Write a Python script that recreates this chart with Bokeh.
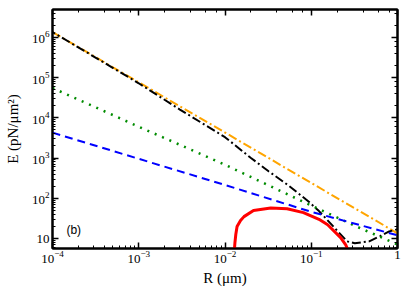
from bokeh.plotting import figure
from bokeh.models import LogAxis, LogTickFormatter, Label, Range1d
from bokeh.embed import file_html
from bokeh.resources import INLINE

# ---- data ----
orange_x = [1e-4, 1e-3, 1e-2, 1e-1, 1.0]
orange_y = [1.35e6, 7.6e4, 4.3e3, 240, 13.5]

black_x = [1e-4, 1e-3, 3e-3, 1e-2, 2e-2, 3.2e-2, 5.5e-2, 9.3e-2, 0.123, 0.18,
           0.26, 0.32, 0.47, 0.63, 0.8, 1.0]
black_y = [1.35e6, 7.2e4, 1.6e4, 3.3e3, 1.0e3, 470, 205, 83, 48, 20,
           8.5, 7.6, 8.5, 11.5, 15, 17]

green_x = [1e-4, 1e-3, 1e-2, 1e-1, 0.316, 1.0]
green_y = [5.5e4, 6.0e3, 680, 66, 21, 7.1]

blue_x = [1e-4, 1e-3, 1e-2, 1e-1, 1.0]
blue_y = [4270, 955, 214, 46, 12]

red_x = [0.01274, 0.01303, 0.01334, 0.0138, 0.01514, 0.0166, 0.0214, 0.0339,
         0.0525, 0.0813, 0.123, 0.155, 0.219, 0.251, 0.279]
red_y = [4.0, 7.8, 12.6, 20, 28, 35, 50, 57, 55, 44, 30, 22, 10.5, 7.0, 4.0]

x_lo, x_hi = 1e-4, 1.0
y_lo, y_hi = 5.65, 4.9e6

SERIF = "Liberation Serif"

p = figure(width=415, height=288, x_axis_type="log", y_axis_type="log",
           x_range=Range1d(x_lo, x_hi), y_range=Range1d(y_lo, y_hi),
           output_backend="svg", toolbar_location=None,
           min_border_left=52, min_border_right=18, min_border_top=9,
           min_border_bottom=39)
p.grid.visible = False
p.outline_line_color = "black"
p.outline_line_width = 2
p.background_fill_color = "white"
p.border_fill_color = "white"


def style(ax, labels=True):
    ax.major_tick_in = 6
    ax.major_tick_out = 0
    ax.minor_tick_in = 3
    ax.minor_tick_out = 0
    ax.axis_line_width = 2
    ax.axis_line_color = "black"
    ax.major_tick_line_width = 1.5
    ax.minor_tick_line_width = 1
    ax.major_tick_line_color = "black"
    ax.minor_tick_line_color = "black"
    if labels:
        ax.major_label_text_font = SERIF
        ax.major_label_text_font_size = "13px"
        ax.major_label_text_color = "black"
        ax.major_label_standoff = 3
        ax.axis_label_text_font = SERIF
        ax.axis_label_text_font_size = "15px"
        ax.axis_label_text_font_style = "normal"
        ax.axis_label_text_color = "black"
    else:
        ax.major_label_text_font_size = "1px"
        ax.major_label_text_alpha = 0
        ax.major_label_standoff = 0


xa = p.xaxis[0]
ya = p.yaxis[0]
style(xa)
style(ya)
xa.axis_label = "R (μm)"
xa.major_label_standoff = 2
xa.axis_label_standoff = 4
ya.axis_label = "E (pN/μm²)"
ya.axis_label_standoff = 8
xa.formatter = LogTickFormatter()
xa.major_label_overrides = {1: "1"}
ya.formatter = LogTickFormatter()
ya.major_label_overrides = {10: "10"}

top = LogAxis()
right = LogAxis()
style(top, labels=False)
style(right, labels=False)
p.add_layout(top, "above")
p.add_layout(right, "right")

p.line(orange_x, orange_y, line_color="#FFA500", line_width=2, line_dash="9 3 2 3")
p.line(black_x, black_y, line_color="black", line_width=2, line_dash="9 3 2 3",
       line_dash_offset=6)
p.line(green_x, green_y, line_color="#008C00", line_width=2.5, line_dash="2 6")
p.line(blue_x, blue_y, line_color="#0000FF", line_width=2, line_dash="8 5")
p.line(red_x, red_y, line_color="#FF0000", line_width=3)

p.add_layout(Label(x=1.45e-4, y=11, text="(b)", text_font="Liberation Sans",
                   text_font_size="12px", text_color="black"))

open("out.html", "w").write(file_html(p, INLINE))
